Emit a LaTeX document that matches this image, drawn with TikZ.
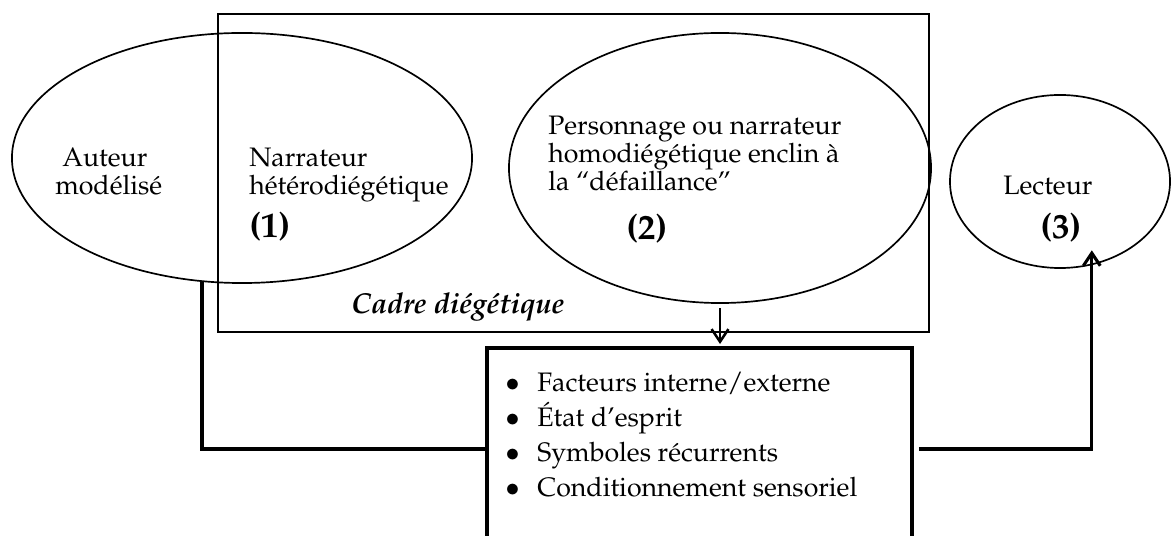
\documentclass[tikz,border=0pt]{standalone}
\usepackage[T1]{fontenc}
\usepackage{mathpazo}
\usetikzlibrary{shapes.geometric,arrows.meta}

\tikzset{
  oval/.style={draw, ellipse, line width=1.2pt, inner sep=0pt, outer sep=0pt},
  txt/.style={inner sep=0pt, align=left, font=\fontsize{19}{20}\selectfont},
  num/.style={inner sep=0pt, font=\fontsize{25}{27}\selectfont\bfseries},
  conn/.style={line width=2.2pt},
  arr/.style={-{Straight Barb[length=9pt,width=12pt]}},
}

\begin{document}
\begin{tikzpicture}[x=0.025cm, y=-0.025cm]
  \useasboundingbox (0,0) rectangle (1171,536);

  % Cadre diegetique
  \node[draw, line width=1.2pt, inner sep=0pt, outer sep=0pt, anchor=north west,
    minimum width=17.775cm, minimum height=7.95cm] (cadre) at (218,14) {};
  \node[inner sep=0pt, anchor=base west,
    font=\fontsize{20.5}{22}\selectfont\bfseries\itshape] (cadrelbl) at (351,314)
    {Cadre diégétique};

  % Ellipses
  \node[oval, minimum width=11.5cm, minimum height=6.25cm] (auteur) at (242,158) {};
  \node[oval, minimum width=10.55cm, minimum height=6.75cm] (persona) at (720,168) {};
  \node[oval, minimum width=5.5cm, minimum height=4.325cm] (lecteur) at (1060,181.5) {};

  % Texts in the ellipses (base = last line)
  \node[txt, anchor=base west] (auteurtxt) at (55,195) {\hspace*{5pt}Auteur\\modélisé};
  \node[txt, anchor=base west] (narrtxt) at (249,195) {Narrateur\\hétérodiégétique};
  \node[num, anchor=base west] (un) at (249,238) {(1)};
  \node[txt, anchor=base west] (personatxt) at (548,191)
    {Personnage ou narrateur\\homodiégétique enclin à\\la ``défaillance''};
  \node[num, anchor=base west] (deux) at (626,240) {(2)};
  \node[txt, anchor=base west] (lecteurtxt) at (1003,195) {Lecteur};
  \node[num, anchor=base west] (trois) at (1040,239) {(3)};

  % Box of factors
  \node[draw, line width=2.8pt, inner sep=0pt, minimum width=10.625cm,
    minimum height=5.05cm] (facteurs) at (699.5,449) {};
  \node[txt, anchor=base west, font=\fontsize{19}{25}\selectfont] (items) at (505,497)
    {\makebox[22.8pt][l]{$\bullet$}Facteurs interne/externe\\
     \makebox[22.8pt][l]{$\bullet$}État d'esprit\\
     \makebox[22.8pt][l]{$\bullet$}Symboles récurrents\\
     \makebox[22.8pt][l]{$\bullet$}Conditionnement sensoriel};

  % Connectors
  \draw[conn] (auteur.-108) |- (facteurs.west);
  \draw[line width=1.8pt, arr, shorten <=0.125cm, shorten >=0.05cm]
    (persona.south) -- (persona.south |- facteurs.north);
  \draw[conn, arr, shorten <=0.12cm, shorten >=-0.35cm] (facteurs.east) -| (lecteur.-69);
\end{tikzpicture}
\end{document}
